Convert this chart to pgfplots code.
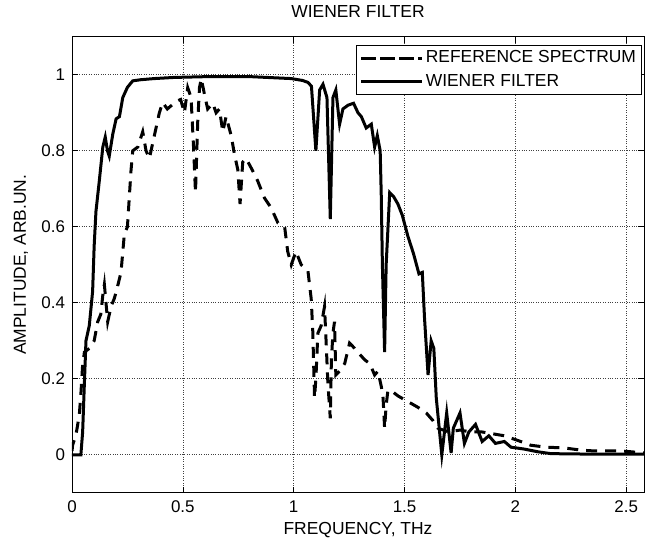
\documentclass[border=0pt]{standalone}
\usepackage{fontspec}
\setmainfont{Liberation Sans}
\usepackage{pgfplots}
\pgfplotsset{compat=1.18}

\begin{document}
\fontsize{17.5}{20}\selectfont
\begin{tikzpicture}
\begin{axis}[
  name=ax,
  scale only axis,
  width=572bp, height=456bp,
  xmin=0, xmax=2.58, ymin=-0.1, ymax=1.1,
  xtick={0,0.5,1,1.5,2,2.5},
  ytick={0,0.2,0.4,0.6,0.8,1},
  tick align=inside,
  major tick length=6bp,
  tick style={line width=0.7pt, black},
  grid=major,
  major grid style={black!75, dotted, line width=0.6pt},
  axis line style={line width=1pt},
  /pgf/number format/assume math mode=true,
  ticklabel style={font=\fontsize{17}{20}\selectfont},
  xticklabel style={yshift=-2bp},
  yticklabel style={xshift=-1bp},
  xlabel={FREQUENCY, THz},
  ylabel={AMPLITUDE, ARB.UN.},
  title={WIENER FILTER},
  xlabel style={font=\fontsize{17.5}{20}\selectfont, at={(axis description cs:0.5,0)}, anchor=center, yshift=-37bp},
  ylabel style={font=\fontsize{17.5}{20}\selectfont, at={(axis description cs:0,0.5)}, anchor=center, yshift=51bp},
  title style={font=\fontsize{17.5}{20}\selectfont, at={(axis description cs:0.5,1)}, anchor=center, yshift=19bp},
  legend style={font=\fontsize{17.5}{20}\selectfont, draw=black, line width=1pt,
    at={(axis description cs:1,1)}, anchor=north east, xshift=-2.5bp, yshift=-8.5bp,
    inner xsep=3bp, inner ysep=3bp, row sep=5bp},
  legend cell align=left,
  legend image code/.code={\path (0bp,0bp) -- (61bp,0bp); \draw[#1, line width=3.2bp] (4bp,0bp) -- (59bp,0bp);},
]
\addplot[black, line width=3bp, dash pattern=on 11bp off 8bp] coordinates {
(0.000,0.01) (0.003,0.026) (0.018,0.053) (0.033,0.105) (0.040,0.16) (0.048,0.237)
(0.056,0.27) (0.078,0.28) (0.100,0.30) (0.116,0.35) (0.130,0.37) (0.139,0.42)
(0.146,0.448) (0.161,0.35) (0.176,0.39) (0.190,0.41) (0.200,0.43) (0.221,0.48)
(0.236,0.58) (0.250,0.60) (0.266,0.747) (0.274,0.80) (0.297,0.81) (0.319,0.85)
(0.334,0.80) (0.349,0.78) (0.364,0.82) (0.379,0.86) (0.394,0.90) (0.409,0.927)
(0.430,0.91) (0.450,0.92) (0.470,0.93) (0.490,0.935) (0.507,0.90) (0.522,0.966)
(0.537,0.94) (0.549,0.80) (0.557,0.69) (0.567,0.875) (0.575,0.966) (0.583,0.99)
(0.597,0.95) (0.612,0.91) (0.635,0.925) (0.650,0.90) (0.665,0.91) (0.680,0.85)
(0.695,0.89) (0.718,0.84) (0.733,0.79) (0.748,0.75) (0.758,0.66) (0.770,0.77)
(0.785,0.78) (0.808,0.755) (0.838,0.72) (0.868,0.676) (0.898,0.65) (0.929,0.61)
(0.959,0.60) (0.973,0.535) (0.989,0.50) (1.010,0.535) (1.034,0.50) (1.064,0.485)
(1.079,0.41) (1.086,0.325) (1.094,0.15) (1.100,0.20) (1.109,0.32) (1.124,0.34)
(1.139,0.39) (1.146,0.30) (1.154,0.19) (1.165,0.096) (1.170,0.25) (1.177,0.32)
(1.184,0.35) (1.190,0.21) (1.207,0.22) (1.230,0.24) (1.252,0.294) (1.275,0.28)
(1.297,0.265) (1.320,0.25) (1.343,0.24) (1.365,0.21) (1.380,0.22) (1.395,0.18)
(1.403,0.15) (1.410,0.07) (1.417,0.13) (1.425,0.17) (1.448,0.165) (1.470,0.155)
(1.515,0.14) (1.560,0.125) (1.598,0.11) (1.628,0.09) (1.650,0.07) (1.700,0.06)
(1.750,0.065) (1.800,0.06) (1.850,0.06) (1.900,0.055) (1.950,0.05) (2.000,0.04)
(2.070,0.025) (2.140,0.02) (2.220,0.018) (2.300,0.012) (2.360,0.01) (2.480,0.01)
(2.580,0.005)
};
\addlegendentry{REFERENCE SPECTRUM}
\addplot[black, line width=3bp] coordinates {
(0.000,0.0) (0.010,0.0) (0.040,0.0) (0.048,0.06) (0.056,0.19) (0.063,0.30)
(0.078,0.34) (0.093,0.43) (0.100,0.55) (0.108,0.64) (0.123,0.72) (0.139,0.81)
(0.150,0.836) (0.160,0.80) (0.168,0.786) (0.184,0.844) (0.199,0.884) (0.214,0.89)
(0.229,0.94) (0.250,0.967) (0.274,0.984) (0.310,0.987) (0.370,0.99) (0.460,0.993)
(0.600,0.995) (0.808,0.995) (0.989,0.99) (1.040,0.985) (1.064,0.98) (1.080,0.97)
(1.100,0.80) (1.117,0.96) (1.132,0.975) (1.150,0.94) (1.165,0.62) (1.177,0.94)
(1.190,0.96) (1.207,0.87) (1.222,0.91) (1.245,0.92) (1.270,0.925) (1.290,0.90)
(1.305,0.89) (1.327,0.86) (1.350,0.87) (1.365,0.81) (1.377,0.84) (1.390,0.80)
(1.395,0.68) (1.400,0.50) (1.410,0.27) (1.417,0.50) (1.433,0.69) (1.450,0.68)
(1.470,0.66) (1.490,0.63) (1.515,0.575) (1.540,0.53) (1.565,0.476) (1.580,0.48)
(1.590,0.36) (1.606,0.21) (1.620,0.30) (1.632,0.28) (1.643,0.15) (1.658,0.06)
(1.668,0.0) (1.690,0.11) (1.710,0.005) (1.720,0.07) (1.750,0.11) (1.770,0.03)
(1.790,0.06) (1.820,0.08) (1.850,0.035) (1.880,0.05) (1.910,0.03) (1.950,0.035)
(1.980,0.02) (2.040,0.015) (2.100,0.008) (2.160,0.003) (2.300,0.002) (2.580,0.002)
};
\addlegendentry{WIENER FILTER}
\end{axis}
\path ([shift={(-72bp,-47bp)}]ax.south west) rectangle ([shift={(4bp,36bp)}]ax.north east);
\end{tikzpicture}
\end{document}
